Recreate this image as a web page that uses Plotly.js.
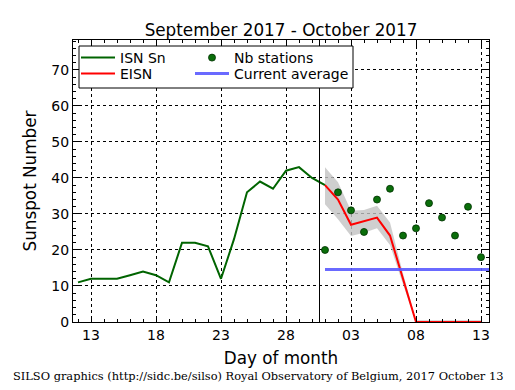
<!DOCTYPE html>
<html><head><meta charset="utf-8">
<script src="https://cdn.plot.ly/plotly-3.0.1.min.js"></script>
<style>html,body{margin:0;padding:0;background:#fff;}#chart{width:515px;height:390px;}</style>
</head><body><div id="chart"></div>
<script>
// ISN Sn (daily sunspot number)
const isnDates = ['2017-09-12','2017-09-13','2017-09-14','2017-09-15','2017-09-16','2017-09-17','2017-09-18','2017-09-19','2017-09-20','2017-09-21','2017-09-22','2017-09-23','2017-09-24','2017-09-25','2017-09-26','2017-09-27','2017-09-28','2017-09-29','2017-09-30','2017-10-01'];
const isnValues = [11,12,12,12,13,14,13,11,22,22,21,12,23,36,39,37,42,43,40,38];
// EISN (estimated)
const eisnDates = ['2017-10-01','2017-10-02','2017-10-03','2017-10-04','2017-10-05','2017-10-06','2017-10-07','2017-10-08','2017-10-09','2017-10-10','2017-10-11','2017-10-12','2017-10-13'];
const eisnValues = [38,34,27,28,29,24,12,0,0,0,0,0,0];
const eisnLow  = [32.7,28.5,23.9,24.8,26,21.4,10.5,0,0,0,0,0,0];
const eisnHigh = [43,38.8,30.9,31.1,32.3,27.6,13.5,0.5,0.5,0.5,0.5,0.5,0.5];
// Number of stations
const stationValues = [20,36,31,25,34,37,24,26,33,29,24,32,18];
// Current average
const avgDates = ['2017-10-01','2017-10-14'];
const avgValues = [14.6,14.6];
// Axis
const xRange = ['2017-09-11 14:46','2017-10-13 14:46'];
const yTicks = [0,10,20,30,40,50,60,70];
const splitDate = '2017-09-30 13:51';
const titleText = 'September 2017 - October 2017';
const footerText = 'SILSO graphics (http://sidc.be/silso) Royal Observatory of Belgium, 2017 October 13';

const FONT = 'DejaVu Sans, sans-serif';
const PW = 416, PH = 282, PL = 73, PT = 40;
const px = v => (v - PL) / PW;
const py = v => 1 - (v - PT) / PH;

const bandX = eisnDates.concat(eisnDates.slice().reverse());
const bandY = eisnHigh.concat(eisnLow.slice().reverse());

const traces = [
  {x: bandX, y: bandY, type: 'scatter', mode: 'lines', fill: 'toself',
   fillcolor: 'rgba(195,195,195,0.8)', line: {width: 0}, showlegend: false, hoverinfo: 'skip'},
  {x: isnDates, y: isnValues, type: 'scatter', mode: 'lines', name: 'ISN Sn',
   line: {color: '#006400', width: 2}, legend: 'legend'},
  {x: eisnDates, y: eisnValues, type: 'scatter', mode: 'lines', name: 'EISN',
   line: {color: '#ff0000', width: 2}, legend: 'legend2'},
  {x: eisnDates, y: stationValues, type: 'scatter', mode: 'markers', name: 'Nb stations',
   marker: {color: '#0a6e0a', size: 7, line: {color: '#003000', width: 0.8}}, legend: 'legend3'},
  {x: avgDates, y: avgValues, type: 'scatter', mode: 'lines', name: 'Current average',
   line: {color: 'rgba(90,90,255,0.9)', width: 3}, legend: 'legend4'}
];

const axisCommon = {
  showline: true, linecolor: 'black', linewidth: 1, mirror: 'allticks',
  ticks: 'inside', ticklen: 6, tickcolor: 'black', tickwidth: 1,
  showgrid: true, gridcolor: 'black', gridwidth: 1, griddash: 'dot',
  zeroline: false, tickfont: {family: FONT, size: 14, color: 'black'}
};

function leg(xpx, ypx) {
  return {x: px(xpx), y: py(ypx), xanchor: 'left', yanchor: 'middle',
          bgcolor: 'rgba(0,0,0,0)', borderwidth: 0, font: {family: FONT, size: 14, color: 'black'},
          itemwidth: 34};
}

const layout = {
  width: 515, height: 390,
  margin: {l: PL, r: 26, t: PT, b: 68},
  paper_bgcolor: 'white', plot_bgcolor: 'white',
  font: {family: FONT, size: 14, color: 'black'},
  title: {text: titleText, font: {family: FONT, size: 16.8, color: 'black'},
          x: 0.5, xref: 'paper', y: 1 - 30/390, yref: 'container', yanchor: 'middle'},
  xaxis: Object.assign({}, axisCommon, {
    type: 'date', range: xRange, tick0: '2017-09-13', dtick: 5*86400000, tickformat: '%d',
    minor: {dtick: 86400000, tick0: '2017-09-13', ticks: 'inside', ticklen: 3, tickcolor: 'black', showgrid: false},
    title: {text: 'Day of month', font: {family: FONT, size: 16.8, color: 'black'}, standoff: 10}
  }),
  yaxis: Object.assign({}, axisCommon, {
    range: [0, 78.3], tickvals: yTicks,
    minor: {dtick: 2, ticks: 'inside', ticklen: 3, tickcolor: 'black', showgrid: false},
    title: {text: 'Sunspot Number', font: {family: FONT, size: 16.8, color: 'black'}, standoff: 10}
  }),
  legend: leg(76, 58),
  legend2: leg(76, 74),
  legend3: leg(190, 58),
  legend4: leg(190, 74),
  shapes: [
    {type: 'line', xref: 'x', yref: 'paper', x0: splitDate, x1: splitDate, y0: 0, y1: 1,
     line: {color: 'black', width: 1}},
    {type: 'rect', xref: 'paper', yref: 'paper', layer: 'above',
     x0: px(79), x1: px(353), y0: py(88), y1: py(46),
     fillcolor: 'white', line: {color: 'black', width: 1}}
  ],
  annotations: [
    {text: footerText, xref: 'paper', yref: 'paper', x: px(11), y: py(376),
     xanchor: 'left', yanchor: 'middle', showarrow: false,
     font: {family: 'DejaVu Serif, serif', size: 11.4, color: 'black'}}
  ]
};

Plotly.newPlot('chart', traces, layout, {staticPlot: true, displayModeBar: false});
</script>
</body></html>
